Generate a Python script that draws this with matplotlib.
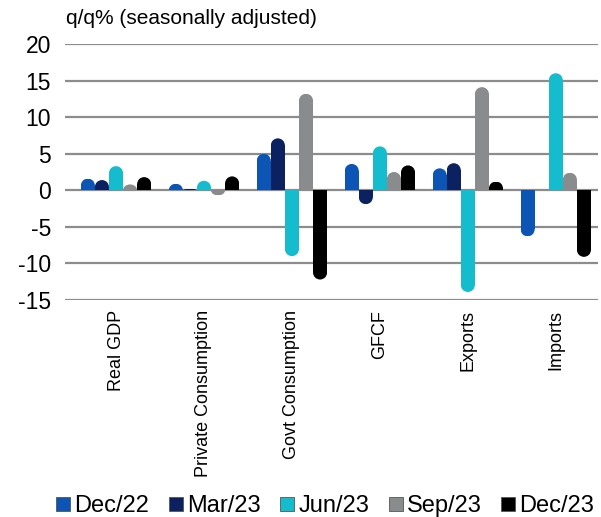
import matplotlib
matplotlib.use('Agg')
import matplotlib.pyplot as plt
from matplotlib.patches import Rectangle, Ellipse
from matplotlib.lines import Line2D

plt.rcParams['font.family'] = ['Liberation Sans', 'DejaVu Sans']
plt.rcParams['axes.unicode_minus'] = False

# Data
categories = ['Real GDP', 'Private Consumption', 'Govt Consumption', 'GFCF', 'Exports', 'Imports']
quarters = ['Dec/22', 'Mar/23', 'Jun/23', 'Sep/23', 'Dec/23']
dec22 = [1.6, 0.9, 5.0, 3.6, 3.0, -6.3]
mar23 = [1.4, 0.2, 7.1, -1.9, 3.7, 0.0]
jun23 = [3.3, 1.3, -9.0, 6.0, -13.9, 16.0]
sep23 = [0.8, -0.7, 13.2, 2.5, 14.1, 2.4]
dec23 = [1.8, 1.9, -12.2, 3.4, 1.2, -9.1]
series = [dec22, mar23, jun23, sep23, dec23]
colors = ['#0d55b5', '#0c2260', '#14bccd', '#898b8d', '#000000']

fig = plt.figure(figsize=(6.01, 5.17), dpi=100)
ax = fig.add_axes([65 / 601, 1 - 300 / 517, 533 / 601, 256 / 517])
ax.set_xlim(-0.58, 5.48)
ax.set_ylim(-15, 20)

w = 0.16
# pixels per data unit, to make round caps circular
px_x = 533 / (5.48 + 0.58)
px_y = 256 / 35.0
r_y = (w * px_x / 2) / px_y

for s, (vals, col) in enumerate(zip(series, colors)):
    for i, v in enumerate(vals):
        if v == 0:
            continue
        x = i + (s - 2) * w
        sign = 1 if v > 0 else -1
        r = min(r_y, abs(v))
        body = v - sign * r
        ax.add_patch(Rectangle((x - w / 2, 0), w, body, facecolor=col, edgecolor='none', zorder=3))
        e = Ellipse((x, body), w, 2 * r, facecolor=col, edgecolor='none', zorder=3)
        ax.add_patch(e)
        clip = Rectangle((x - w / 2, min(0, v)), w, abs(v), transform=ax.transData)
        e.set_clip_path(clip)

# gridlines
for yv in range(-15, 25, 5):
    ax.axhline(yv, color='#8c8c8c', lw=1.6, zorder=2)

for sp in ax.spines.values():
    sp.set_visible(False)
ax.set_yticks(range(-15, 25, 5))
ax.tick_params(axis='y', length=0, labelsize=16.5, pad=10)
ax.set_xticks(range(len(categories)))
ax.set_xticklabels(categories, rotation=90, fontsize=13, va='top')
ax.tick_params(axis='x', length=0, pad=7)

fig.text(65 / 601 + 0.002, 1 - 18 / 517, 'q/q% (seasonally adjusted)', fontsize=15, va='center', ha='left')

handles = [Line2D([], [], marker='s', ls='none', markersize=9.4, markerfacecolor=c,
                  markeredgecolor='#555555', markeredgewidth=0.6) for c in colors]
fig.legend(handles, quarters, loc='center', bbox_to_anchor=(325.5 / 601, 1 - 506 / 517), ncol=5,
           frameon=False, fontsize=17, handlelength=0.55, handletextpad=0.2,
           columnspacing=0.85, borderpad=0)

fig.savefig('out.png', dpi=100)
